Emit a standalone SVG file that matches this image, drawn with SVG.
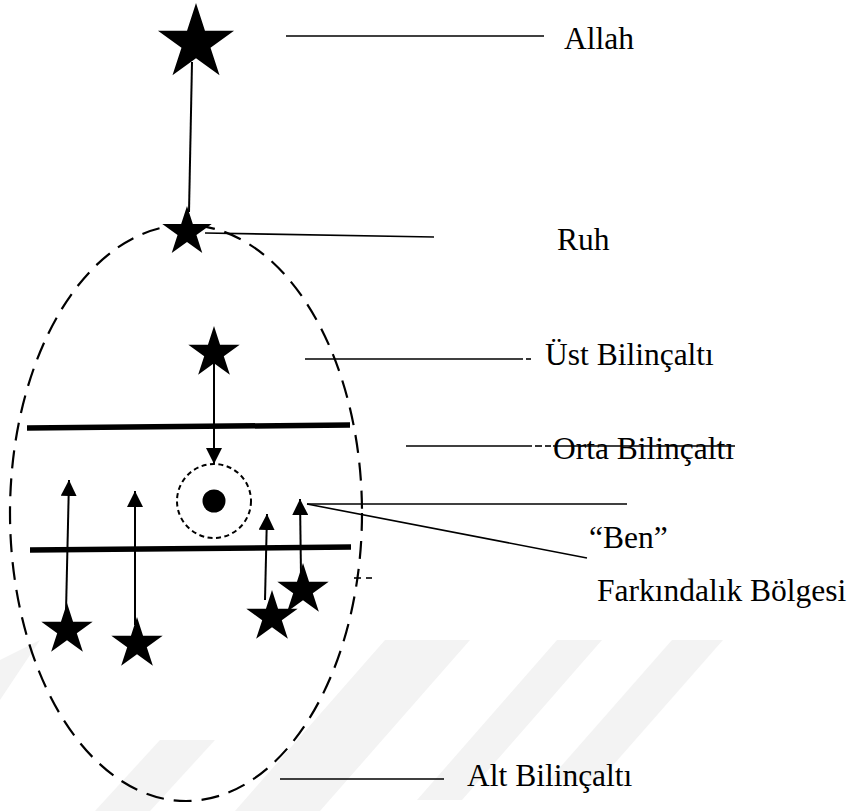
<svg xmlns="http://www.w3.org/2000/svg" width="854" height="811" viewBox="0 0 854 811">
<style>
  text { font-family: "Liberation Serif", "Times New Roman", serif; font-size: 31.5px; fill: #000; }
  .lead { stroke: #000; stroke-width: 1.6; fill: none; }
  .thick { stroke: #000; stroke-width: 5.5; fill: none; }
  .arr { stroke: #000; stroke-width: 2; fill: none; }
  .star { fill: #000; }
  .wm { fill: #f3f3f3; }
</style>
<defs>
  <path id="star" d="M0,-1 L0.2245,-0.309 L0.951,-0.309 L0.363,0.118 L0.588,0.809 L0,0.382 L-0.588,0.809 L-0.363,0.118 L-0.951,-0.309 L-0.2245,-0.309 Z"/>
  <marker id="ah" viewBox="0 0 16 16" refX="16" refY="8" markerWidth="16" markerHeight="16" markerUnits="userSpaceOnUse" orient="auto">
    <path d="M0,0 L16,8 L0,16 Z" fill="#000"/>
  </marker>
</defs>
<rect width="854" height="811" fill="#fff"/>
<g id="watermark">
  <polygon class="wm" points="385,640 470,640 320,811 235,811"/>
  <polygon class="wm" points="557,640 602,640 462,800 417,800"/>
  <polygon class="wm" points="672,640 723,640 600,780 549,780"/>
  <polygon class="wm" points="0,660 40,640 0,700"/>
  <polygon class="wm" points="160,740 215,740 150,811 95,811"/>
</g>
<g id="ellipse">
  <ellipse cx="186" cy="513" rx="176" ry="288" fill="none" stroke="#000" stroke-width="2.2" stroke-dasharray="18 10"/>
</g>
<g id="layers">
  <line class="thick" x1="27" y1="428" x2="350" y2="425"/>
  <line class="thick" x1="30" y1="550" x2="351" y2="547"/>
</g>
<g id="connectors">
  <line class="arr" x1="192" y1="62" x2="189" y2="212"/>
  <line class="arr" x1="214" y1="362" x2="214" y2="464" marker-end="url(#ah)"/>
  <line class="arr" x1="66" y1="612" x2="69" y2="480" marker-end="url(#ah)"/>
  <line class="arr" x1="135" y1="625" x2="135" y2="491" marker-end="url(#ah)"/>
  <line class="arr" x1="265" y1="600" x2="267" y2="514" marker-end="url(#ah)"/>
  <line class="arr" x1="301" y1="575" x2="300" y2="499" marker-end="url(#ah)"/>
  <line class="lead" x1="286" y1="36" x2="544" y2="36"/>
  <line class="lead" x1="205" y1="233" x2="434" y2="237"/>
  <line class="lead" x1="305" y1="359" x2="523" y2="359"/>
  <line class="lead" x1="526" y1="359" x2="531" y2="359"/>
  <line class="lead" x1="406" y1="446" x2="532" y2="446"/>
  <line class="lead" x1="535" y1="446" x2="542" y2="446"/>
  <line class="lead" x1="545" y1="446" x2="551" y2="446"/>
  <line class="lead" x1="553" y1="446" x2="735" y2="446" stroke-width="1.2"/>
  <line class="lead" x1="307" y1="504" x2="627" y2="504"/>
  <line class="lead" x1="307" y1="504" x2="587" y2="558"/>
  <line class="lead" x1="354" y1="578" x2="361" y2="578"/>
  <line class="lead" x1="366" y1="578" x2="372" y2="578"/>
  <line class="lead" x1="280" y1="779" x2="444" y2="779"/>
</g>
<g id="allah">
  <use href="#star" class="star" transform="translate(196,43) scale(40)"/>
  <text x="564" y="49">Allah</text>
</g>
<g id="ruh">
  <use href="#star" class="star" transform="translate(187,232) scale(26)"/>
  <text x="557" y="250">Ruh</text>
</g>
<g id="ust">
  <use href="#star" class="star" transform="translate(214,353) scale(27)"/>
  <text x="545" y="365">Üst Bilinçaltı</text>
</g>
<g id="orta">
  <text x="553" y="459">Orta Bilinçaltı</text>
</g>
<g id="ben">
  <circle cx="214" cy="501" r="37" fill="none" stroke="#000" stroke-width="2" stroke-dasharray="5 3.5"/>
  <circle cx="214" cy="501" r="11.5" fill="#000"/>
  <text x="589" y="548">“Ben”</text>
</g>
<g id="farkindalik">
  <text x="597" y="601">Farkındalık Bölgesi</text>
</g>
<g id="alt-stars">
  <use href="#star" class="star" transform="translate(67,630) scale(27)"/>
  <use href="#star" class="star" transform="translate(137,644) scale(27)"/>
  <use href="#star" class="star" transform="translate(272,617) scale(27)"/>
  <use href="#star" class="star" transform="translate(303,590) scale(27)"/>
</g>
<g id="alt">
  <text x="467" y="786">Alt Bilinçaltı</text>
</g>
</svg>
